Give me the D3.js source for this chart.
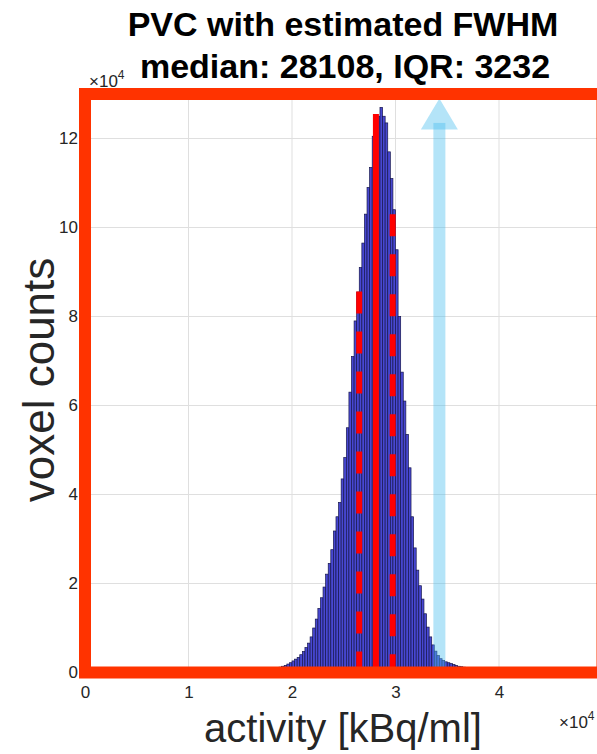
<!DOCTYPE html>
<html>
<head>
<meta charset="utf-8">
<script src="https://cdn.jsdelivr.net/npm/d3@7"></script>
<style>
  body { margin: 0; background: #fff; }
  svg { display: block; font-family: "Liberation Sans", Arial, sans-serif; }
</style>
</head>
<body>
<div class="chart"></div>
<script>
var width = 597, height = 754;

// histogram: first bin edge and bin width in kBq/ml, counts per bin
var binStart = 17000, binWidth = 250;
var counts = [
  200, 300, 400, 500, 700, 800, 1000, 1200, 1400, 1600,
  1900, 2200, 2600, 3000, 3400, 4000, 4700, 5600, 6600, 8000,
  10000, 12000, 14400, 16800, 19200, 22100, 24500, 27600, 31800, 35000,
  38200, 43500, 48300, 55000, 63000, 71000, 79000, 85500, 91000, 96500,
  103000, 109000, 113500, 120500, 124500, 125000, 127000, 125000, 123500, 117000,
  111000, 104000, 95000, 80000, 67500, 61000, 53500, 46000, 35000, 28000,
  23000, 19500, 16500, 13200, 10200, 8000, 6200, 4800, 3800, 3100,
  2700, 2400, 2200, 2000, 1800, 1600, 1400, 1300, 1200, 1100,
  1000, 900, 800, 700, 600, 500, 500, 400, 300, 300,
  200, 200
];

// median and quartiles (red lines) and how high each line goes
var statValues = [26492, 28108, 29724];
var statTops = [85600, 125500, 103000];
var statDashed = [true, false, true];

// blue arrow
var arrowX = 34240, arrowBase = 0, arrowShaftTop = 123500, arrowHeadBase = 122000, arrowTip = 129000;

var xTicks = [0, 10000, 20000, 30000, 40000];
var yTicks = [0, 20000, 40000, 60000, 80000, 100000, 120000];
var xDomain = [0, 50000], yDomain = [0, 130000];

var margin = {left: 85, right: 602.5, top: 94, bottom: 672.5};

var svg = d3.select(".chart")
    .append("svg")
    .attr("width", width)
    .attr("height", height);

var x = d3.scaleLinear().domain(xDomain).range([margin.left, margin.right]);
var y = d3.scaleLinear().domain(yDomain).range([margin.bottom, margin.top]);

// grid
svg.append("g").selectAll("line")
    .data(xTicks.slice(1))
    .enter().append("line")
    .attr("x1", function(d){ return x(d); })
    .attr("x2", function(d){ return x(d); })
    .attr("y1", margin.top).attr("y2", margin.bottom)
    .attr("stroke", "#dfdfdf").attr("stroke-width", 1);

svg.append("g").selectAll("line")
    .data(yTicks.slice(1))
    .enter().append("line")
    .attr("x1", margin.left).attr("x2", margin.right)
    .attr("y1", function(d){ return y(d); })
    .attr("y2", function(d){ return y(d); })
    .attr("stroke", "#dfdfdf").attr("stroke-width", 1);

// bars
svg.append("g").selectAll("rect")
    .data(counts)
    .enter().append("rect")
    .attr("x", function(d, i){ return x(binStart + i * binWidth); })
    .attr("width", x(binWidth) - x(0))
    .attr("y", function(d){ return y(d); })
    .attr("height", function(d){ return y(0) - y(d); })
    .attr("fill", "#4848d2")
    .attr("stroke", "#16164c")
    .attr("stroke-width", 0.7);

// median / quartile lines
svg.append("g").selectAll("line")
    .data(statValues)
    .enter().append("line")
    .attr("x1", function(d){ return x(d); })
    .attr("x2", function(d){ return x(d); })
    .attr("y1", function(d, i){ return y(statTops[i]); })
    .attr("y2", y(0))
    .attr("stroke", "#ff0000")
    .attr("stroke-width", 6)
    .attr("stroke-dasharray", function(d, i){ return statDashed[i] ? "22,18" : null; });

// arrow
var arrowG = svg.append("g").attr("fill", "#4dbeee").attr("fill-opacity", 0.42);
arrowG.append("rect")
    .attr("x", x(arrowX) - 6)
    .attr("width", 12)
    .attr("y", y(arrowShaftTop))
    .attr("height", y(arrowBase) - y(arrowShaftTop));
arrowG.append("path")
    .attr("d", "M" + (x(arrowX) - 18.5) + "," + y(arrowHeadBase) +
               "L" + x(arrowX) + "," + y(arrowTip) +
               "L" + (x(arrowX) + 18.5) + "," + y(arrowHeadBase) + "Z");

// axes labels
var xAxis = d3.axisBottom(x)
    .tickValues(xTicks)
    .tickFormat(function(d){ return d / 10000; })
    .tickSize(0)
    .tickPadding(13);

var yAxis = d3.axisLeft(y)
    .tickValues(yTicks)
    .tickFormat(function(d){ return d / 10000; })
    .tickSize(0)
    .tickPadding(7);

var gx = svg.append("g")
    .attr("transform", "translate(0," + margin.bottom + ")")
    .call(xAxis);
var gy = svg.append("g")
    .attr("transform", "translate(" + margin.left + ",0)")
    .call(yAxis);

[gx, gy].forEach(function(g){
  g.select(".domain").remove();
  g.selectAll("text")
    .attr("fill", "#262626")
    .style("font-size", "17px")
    .style("font-family", "Liberation Sans, Arial, sans-serif");
});

// red axes box
svg.append("rect")
    .attr("x", margin.left).attr("y", margin.top)
    .attr("width", margin.right - margin.left).attr("height", margin.bottom - margin.top)
    .attr("fill", "none")
    .attr("stroke", "#ff3300")
    .attr("stroke-width", 12);

// exponent labels
function expLabel(px, py) {
  var t = svg.append("text")
      .attr("x", px).attr("y", py)
      .attr("fill", "#262626")
      .style("font-size", "17px");
  t.append("tspan").text("\u00d710");
  t.append("tspan").attr("dy", -8).style("font-size", "12px").text("4");
}
expLabel(89, 87);
expLabel(559, 728);

// title
svg.append("text")
    .attr("x", 343).attr("y", 36)
    .attr("text-anchor", "middle")
    .style("font-size", "34px").style("font-weight", "bold")
    .attr("fill", "#000")
    .text("PVC with estimated FWHM");
svg.append("text")
    .attr("x", 345).attr("y", 78)
    .attr("text-anchor", "middle")
    .style("font-size", "34px").style("font-weight", "bold")
    .attr("fill", "#000")
    .text("median: 28108, IQR: 3232");

// axis titles
svg.append("text")
    .attr("x", 343).attr("y", 742)
    .attr("text-anchor", "middle")
    .attr("fill", "#262626")
    .style("font-size", "40px")
    .text("activity [kBq/ml]");

svg.append("text")
    .attr("transform", "translate(54,380) rotate(-90)")
    .attr("text-anchor", "middle")
    .attr("fill", "#262626")
    .style("font-size", "44px")
    .text("voxel counts");
</script>
</body>
</html>
